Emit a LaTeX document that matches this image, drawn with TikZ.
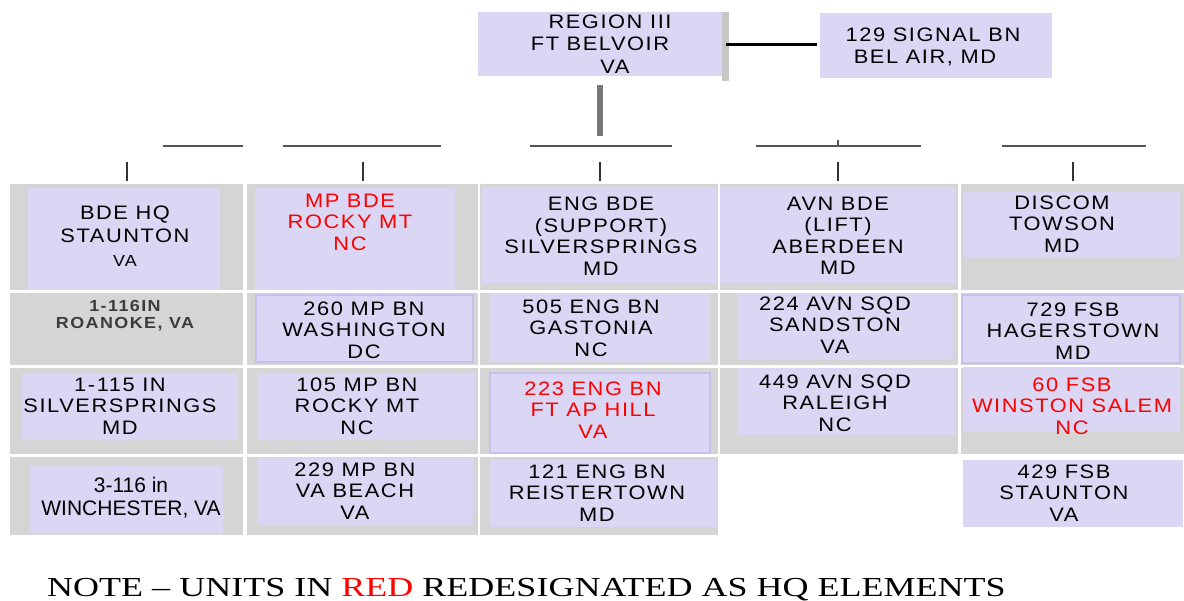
\documentclass[tikz,border=0pt]{standalone}
\usepackage{fontspec}
\setmainfont{Liberation Sans}
\newfontfamily\ufam{Liberation Sans}[FakeStretch=1.12,LetterSpace=8]
\newfontfamily\rfam{Liberation Sans}[FakeStretch=1.12,LetterSpace=9]
\newfontfamily\wfam{Liberation Sans}
\newfontfamily\nfam{Liberation Serif}[FakeStretch=1.31]
\definecolor{boxfill}{RGB}{219,214,243}
\definecolor{boxline}{RGB}{200,192,236}
\definecolor{cellgrey}{RGB}{213,213,213}
\definecolor{roanokegrey}{RGB}{60,60,60}
\definecolor{trunkgrey}{RGB}{120,120,120}
\definecolor{seggrey}{RGB}{85,85,85}
\newcommand\ubox[4]{\fill[boxfill] (#1,#2) rectangle (#3,#4);}
\newcommand\uboxl[4]{\filldraw[fill=boxfill,draw=boxline,line width=1.2pt] (#1,#2) rectangle (#3,#4);}
\begin{document}
\begin{tikzpicture}[x=1pt,y=-1pt,
  ut/.style={align=center,inner sep=0pt,text depth=0pt,text=black,
    font=\ufam\fontsize{19.5}{21.5}\selectfont},
  utred/.style={ut,text=red},
  topbox/.style={ut,fill=boxfill,font=\ufam\fontsize{19.5}{22.5}\selectfont},
  rt/.style={align=center,inner sep=0pt,text depth=0pt,text=roanokegrey,
    font=\rfam\bfseries\fontsize{16}{17}\selectfont},
  seg/.style={draw=seggrey,line width=2.4pt},
  tick/.style={draw=black!80,line width=2.6pt}]
\useasboundingbox (0,0) rectangle (1184,601);

% grey background cells
\foreach \xa/\xb in {10/243,247/478,480/718}{
  \foreach \ya/\yb in {184/290,293/365,368/454,457/535}{
    \fill[cellgrey] (\xa,\ya) rectangle (\xb,\yb);}}
\foreach \xa/\xb in {720/958,961/1184}{
  \foreach \ya/\yb in {184/290,293/365,368/454}{
    \fill[cellgrey] (\xa,\ya) rectangle (\xb,\yb);}}

% top boxes
\fill[black!22] (722,12) rectangle (729,81);
\node[topbox,minimum width=244pt,minimum height=64pt] (region) at (600,44)
  {\hspace*{20pt}REGION III\\FT BELVOIR\hspace*{30pt}\\\hspace*{30pt}VA};
\node[topbox,minimum width=232pt,minimum height=65pt,font=\ufam\fontsize{19.5}{22}\selectfont] (signal) at (936,45.5)
  {129 SIGNAL BN\hspace*{6pt}\\BEL AIR, MD\hspace*{22pt}};
\coordinate (linkend) at ([xshift=-3pt]signal.west |- 0,45);
\draw[black,line width=3pt] ([xshift=4pt]region.east |- 0,45) -- (linkend);
\coordinate (trunkend) at (600,136);
\draw[trunkgrey,line width=6pt] ([yshift=-9pt]region.south) -- (trunkend);

% broken horizontal bus segments
\coordinate (s1a) at (163,146); \coordinate (s1b) at (243,146);
\coordinate (s2a) at (283,146); \coordinate (s2b) at (441,146);
\coordinate (s3a) at (530,146); \coordinate (s3b) at (672,146);
\coordinate (s4a) at (756,146); \coordinate (s4b) at (921,146);
\coordinate (s5a) at (1002,146); \coordinate (s5b) at (1146,146);
\draw[seg] (s1a) -- (s1b);
\draw[seg] (s2a) -- (s2b);
\draw[seg] (s3a) -- (s3b);
\draw[seg] (s4a) -- (s4b);
\draw[seg] (s5a) -- (s5b);
\coordinate (m4a) at (838,140); \coordinate (m4b) at (838,146);
\draw[seggrey,line width=1.5pt] (m4a) -- (m4b);
% drop ticks
\foreach \n/\x in {t1/127,t2/363,t3/600,t4/838,t5/1073}{
  \coordinate (\n a) at (\x,162); \coordinate (\n b) at (\x,181);
  \draw[tick] (\n a) -- (\n b);}

% row 1
\ubox{28}{188}{220}{290}
\node[ut,font=\ufam\fontsize{19.5}{23.5}\selectfont] (bdehq) at (125,236)
  {BDE HQ\\STAUNTON\\{\fontsize{16}{23.5}\selectfont VA}};
\ubox{255}{188}{455}{290}
\node[utred] (mpbde) at (350,222) {MP BDE\\ROCKY MT\\NC};
\ubox{482}{187}{717}{283}
\node[ut] (engbde) at (601,236) {ENG BDE\\(SUPPORT)\\SILVERSPRINGS\\MD};
\ubox{720}{187}{955}{283}
\node[ut] (avnbde) at (838,236) {AVN BDE\\(LIFT)\\ABERDEEN\\MD};
\ubox{963}{192}{1180}{257}
\node[ut] (discom) at (1062,224) {DISCOM\\TOWSON\\MD};

% row 2
\node[rt] (roanoke) at (125,314) {1-116IN\\ROANOKE, VA};
\uboxl{256}{295}{473}{362}
\node[ut] (mp260) at (364,330) {260 MP BN\\WASHINGTON\\DC};
\ubox{490}{293}{710}{362}
\node[ut] (eng505) at (591,328) {505 ENG BN\\GASTONIA\\NC};
\ubox{737}{293}{953}{360}
\node[ut] (avn224) at (835,325) {224 AVN SQD\\SANDSTON\\VA};
\uboxl{962}{295}{1180}{363}
\node[ut] (fsb729) at (1073,331) {729 FSB\\HAGERSTOWN\\MD};

% row 3
\ubox{22}{373}{238}{440}
\node[ut] (in115) at (120,406) {1-115 IN\\SILVERSPRINGS\\MD};
\ubox{257}{373}{475}{440}
\node[ut] (mp105) at (357,406) {105 MP BN\\ROCKY MT\\NC};
\uboxl{490}{373}{710}{453}
\node[utred] (eng223) at (593,410) {223 ENG BN\\FT AP HILL\\VA};
\ubox{737}{368}{955}{435}
\node[ut] (avn449) at (835,403) {449 AVN SQD\\RALEIGH\\NC};
\ubox{963}{367}{1180}{432}
\node[utred] (fsb60) at (1072,406) {60 FSB\\WINSTON SALEM\\NC};

% row 4
\ubox{30}{465}{223}{533}
\node[ut,font=\wfam\fontsize{21}{23}\selectfont] (in116) at (131,496) {3-116 in\\WINCHESTER, VA};
\ubox{257}{458}{473}{525}
\node[ut] (mp229) at (355,491) {229 MP BN\\VA BEACH\\VA};
\ubox{490}{460}{717}{527}
\node[ut] (eng121) at (597,493) {121 ENG BN\\REISTERTOWN\\MD};
\ubox{963}{460}{1183}{527}
\node[ut] (fsb429) at (1064,493) {429 FSB\\STAUNTON\\VA};

% note
\node[anchor=base west,inner sep=0pt,font=\nfam\fontsize{27.5}{32}\selectfont] (note) at (47,596)
  {NOTE – UNITS IN \textcolor{red}{RED} REDESIGNATED AS HQ ELEMENTS};
\end{tikzpicture}
\end{document}
